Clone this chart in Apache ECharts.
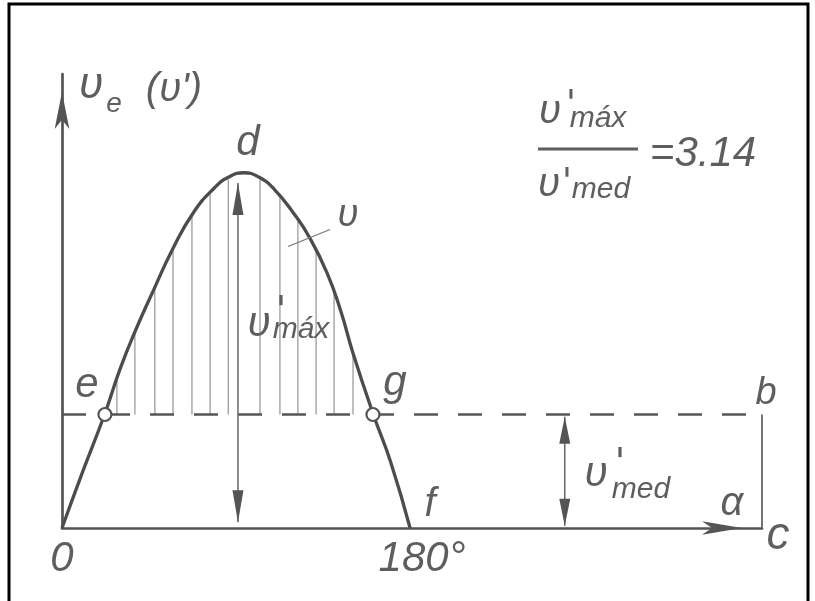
<!DOCTYPE html>
<html>
<head>
<meta charset="utf-8">
<script src="https://cdn.jsdelivr.net/npm/echarts@6/dist/echarts.min.js"></script>
<style>
  html, body { margin: 0; padding: 0; background: #fff; }
  #container { width: 815px; height: 601px; }
</style>
</head>
<body>
<div id="container"></div>
<script>
// curve v(alpha), alpha in degrees, v in units of v'med
var curveDeg = [0, 11, 22, 30, 38, 48, 57, 68, 79, 86, 94, 102, 110, 119.5, 128, 137, 144, 150.5, 161, 170, 180];
var curveVal = [0, 0.51, 1.0, 1.40, 1.74, 2.12, 2.45, 2.78, 3.00, 3.09, 3.13, 3.09, 2.98, 2.78, 2.56, 2.25, 1.92, 1.54, 1.0, 0.58, 0];

// vertical hatching between the curve and the mean line
var hatchDeg = [28.4, 37.7, 48, 57.4, 67.2, 76.6, 86, 102.4, 112.7, 122, 131.4, 140.7, 150.5];
var hatchTop = [1.3, 1.72, 2.1, 2.45, 2.75, 2.95, 3.07, 3.07, 2.92, 2.72, 2.47, 2.1, 1.52];

var vMed = 1;          // v'med
var xEnd = 362;        // end of the alpha axis (point c / b)
var yEnd = 4;          // end of the v axis
var pointsEG = [[22.2, 1], [160.8, 1]];
// double arrows: [alpha, from, to]
var arrowsVMax = [[91, 0.05, 3.04]];
var arrowsVMed = [[260, 0.02, 0.98]];
var leaderV = [[116.9, 2.48], [138.6, 2.63]];

var ink = '#545454';
var txt = '#5e5e5e';
var font = 'Liberation Sans';

var curveData = [];
for (var i = 0; i < curveDeg.length; i++) {
    curveData.push([curveDeg[i], curveVal[i]]);
}
var hatchData = [];
for (var i = 0; i < hatchDeg.length; i++) {
    hatchData.push([hatchDeg[i], vMed, hatchTop[i]]);
}

function hatchItem(params, api) {
    var p0 = api.coord([api.value(0), api.value(1)]);
    var p1 = api.coord([api.value(0), api.value(2)]);
    return {
        type: 'line',
        shape: {x1: p0[0], y1: p0[1], x2: p1[0], y2: p1[1]},
        style: {stroke: '#9c9c9c', lineWidth: 1.3}
    };
}

function makeArrow(len, half) {
    return function (params, api) {
        var p0 = api.coord([api.value(0), api.value(1)]);
        var p1 = api.coord([api.value(0), api.value(2)]);
        return {
            type: 'group',
            children: [
                {type: 'line', shape: {x1: p0[0], y1: p0[1], x2: p1[0], y2: p1[1]},
                    style: {stroke: '#666', lineWidth: 1.5}},
                {type: 'polygon', shape: {points: [[p1[0], p1[1]], [p1[0] - half, p1[1] + len], [p1[0] + half, p1[1] + len]]},
                    style: {fill: ink}},
                {type: 'polygon', shape: {points: [[p0[0], p0[1]], [p0[0] - half, p0[1] - len], [p0[0] + half, p0[1] - len]]},
                    style: {fill: ink}}
            ]
        };
    };
}

function label(text, x, y, size, fam) {
    return {
        type: 'text',
        x: x,
        y: y,
        style: {
            text: text,
            fill: txt,
            font: 'italic ' + size + 'px "' + (fam || font) + '"',
            textAlign: 'center',
            textVerticalAlign: 'middle'
        },
        z: 100
    };
}

// the prime mark, drawn a bit heavier than the plain apostrophe
function prime(x, y, size) {
    return label("'", x, y, size, 'DejaVu Sans');
}

var myChart = echarts.init(document.getElementById('container'));
var option = {
    backgroundColor: '#fff',
    animation: false,
    grid: {left: 62, right: 53, top: 74, bottom: 73},
    xAxis: {
        type: 'value', min: 0, max: xEnd,
        splitLine: {show: false}, axisTick: {show: false}, axisLabel: {show: false},
        axisLine: {
            lineStyle: {color: ink, width: 2.7},
            symbol: ['none', 'arrow'], symbolSize: [10, 40], symbolOffset: [0, -20]
        }
    },
    yAxis: {
        type: 'value', min: 0, max: yEnd,
        splitLine: {show: false}, axisTick: {show: false}, axisLabel: {show: false},
        axisLine: {
            lineStyle: {color: ink, width: 2.7},
            symbol: ['none', 'arrow'], symbolSize: [11, 37], symbolOffset: [0, -18]
        }
    },
    series: [
        {
            type: 'custom', renderItem: hatchItem, data: hatchData, clip: false, z: 1
        },
        {
            type: 'line', data: [[0, vMed], [xEnd, vMed]], symbol: 'none', clip: false, z: 2,
            lineStyle: {color: ink, width: 2.7, type: [24, 20]}
        },
        {
            type: 'line', data: [[xEnd, 0], [xEnd, vMed]], symbol: 'none', clip: false, z: 2,
            lineStyle: {color: '#666', width: 1.8}
        },
        {
            type: 'line', data: curveData, smooth: 0.5, symbol: 'none', clip: false, z: 3,
            lineStyle: {color: '#4c4c4c', width: 3.3}
        },
        {
            type: 'line', data: leaderV, symbol: 'none', clip: false, z: 3,
            lineStyle: {color: '#777', width: 1.3}
        },
        {
            type: 'custom', renderItem: makeArrow(32, 5.5), data: arrowsVMax, clip: false, z: 4
        },
        {
            type: 'custom', renderItem: makeArrow(27, 5.5), data: arrowsVMed, clip: false, z: 4
        },
        {
            type: 'scatter', data: pointsEG, symbol: 'circle', symbolSize: 13, z: 5,
            itemStyle: {color: '#fff', opacity: 1, borderColor: ink, borderWidth: 2.2}
        }
    ],
    graphic: [
        {type: 'rect', shape: {x: 9, y: 4, width: 799, height: 640},
            style: {fill: 'none', stroke: '#000', lineWidth: 3}, z: 200},
        // axis title v_e (v')
        label('ʋ', 91, 86, 44),
        label('e', 114, 104, 28),
        label("(ʋ')", 174, 90, 40),
        // point labels
        label('d', 248, 143, 42),
        label('ʋ', 348, 215, 38),
        label('e', 87, 385, 42),
        label('g', 395, 383, 42),
        label('f', 430, 505, 40),
        label('b', 766, 393, 38),
        label('c', 778, 536, 46),
        label('α', 732, 504, 40),
        label('0', 62, 559, 42),
        label('180°', 422, 559, 42),
        // v'max in the hatched area
        label('ʋ', 259, 324, 42),
        prime(281, 312, 38),
        label('máx', 301, 330, 30),
        // v'med at the right
        label('ʋ', 596, 474, 42),
        prime(620, 464, 38),
        label('med', 641, 490, 30),
        // ratio
        label('ʋ', 550, 112, 40),
        prime(571, 106, 36),
        label('máx', 598, 119, 30),
        {type: 'line', shape: {x1: 538, y1: 149, x2: 638, y2: 149},
            style: {stroke: txt, lineWidth: 3}, z: 100},
        label('ʋ', 549, 185, 40),
        prime(567, 184, 36),
        label('med', 601, 190, 30),
        label('=3.14', 703, 154, 42)
    ]
};
myChart.setOption(option);
</script>
</body>
</html>
